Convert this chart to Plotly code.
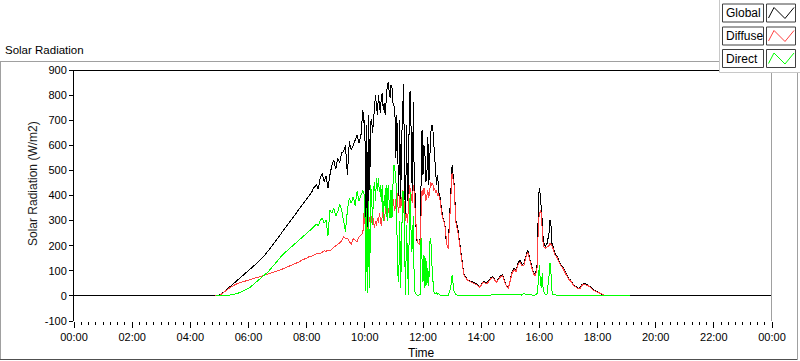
import plotly.graph_objects as go

# ---------------- data ----------------
times = [
    "00:00", "04:48", "04:52", "04:56", "05:00", "05:04", "05:08", "05:12", "05:16", "05:20",
    "05:24", "05:28", "05:32", "05:36", "05:40", "05:44", "05:48", "05:52", "05:56", "06:00",
    "06:05", "06:10", "06:15", "06:20", "06:25", "06:30", "06:35", "06:40", "06:45", "06:50",
    "06:55", "07:00", "07:05", "07:10", "07:15", "07:20", "07:25", "07:30", "07:35", "07:40",
    "07:45", "07:50", "07:55", "08:00", "08:05", "08:10", "08:15", "08:20", "08:24", "08:28",
    "08:32", "08:36", "08:40", "08:44", "08:48", "08:52", "08:56", "09:00", "09:04", "09:08",
    "09:12", "09:16", "09:20", "09:24", "09:28", "09:32", "09:36", "09:40", "09:44", "09:48",
    "09:52", "09:56", "09:58", "10:00", "10:02", "10:04", "10:06", "10:08", "10:10", "10:12",
    "10:14", "10:16", "10:18", "10:20", "10:22", "10:24", "10:26", "10:28", "10:30", "10:32",
    "10:34", "10:36", "10:38", "10:40", "10:42", "10:44", "10:46", "10:48", "10:50", "10:52",
    "10:54", "10:56", "10:58", "11:00", "11:02", "11:04", "11:06", "11:08", "11:10", "11:12",
    "11:14", "11:16", "11:18", "11:20", "11:22", "11:24", "11:26", "11:28", "11:30", "11:32",
    "11:34", "11:36", "11:38", "11:40", "11:42", "11:44", "11:46", "11:48", "11:50", "11:52",
    "11:54", "11:56", "11:58", "12:00", "12:02", "12:04", "12:06", "12:08", "12:10", "12:12",
    "12:14", "12:16", "12:18", "12:20", "12:22", "12:24", "12:26", "12:28", "12:30", "12:32",
    "12:34", "12:36", "12:38", "12:40", "12:42", "12:44", "12:46", "12:48", "12:50", "12:52",
    "12:54", "12:56", "12:58", "13:00", "13:04", "13:08", "13:12", "13:16", "13:20", "13:24",
    "13:28", "13:32", "13:36", "13:40", "13:44", "13:48", "13:52", "13:56", "14:00", "14:04",
    "14:08", "14:12", "14:16", "14:20", "14:24", "14:28", "14:32", "14:36", "14:40", "14:44",
    "14:48", "14:52", "14:56", "15:00", "15:04", "15:08", "15:12", "15:16", "15:20", "15:24",
    "15:28", "15:32", "15:36", "15:40", "15:44", "15:48", "15:52", "15:56", "15:58", "16:00",
    "16:02", "16:04", "16:06", "16:08", "16:12", "16:16", "16:20", "16:22", "16:24", "16:26",
    "16:28", "16:32", "16:36", "16:40", "16:44", "16:48", "16:52", "16:56", "17:00", "17:04",
    "17:08", "17:12", "17:16", "17:20", "17:24", "17:28", "17:32", "17:36", "17:40", "17:44",
    "17:48", "17:52", "17:56", "18:00", "18:04", "18:08", "18:12", "18:16", "18:30", "18:45",
    "19:00", "19:08", "19:12", "24:00",
]

global_wm2 = [
    0, 0, 0, 1, 4, 8, 14, 20, 27, 34,
    41, 48, 55, 61, 68, 75, 82, 88, 95, 103,
    110, 118, 126, 135, 145, 155, 166, 178, 190, 202,
    215, 228, 242, 256, 269, 282, 296, 309, 322, 336,
    349, 362, 375, 388, 401, 412, 432, 442, 425, 470,
    488, 455, 478, 430, 482, 520, 542, 505, 550, 530,
    570, 575, 600, 482, 615, 580, 600, 625, 641, 610,
    640, 741, 690, 700, 250, 680, 240, 720, 420, 690,
    705, 650, 690, 740, 800, 760, 720, 800, 770, 730,
    790, 810, 740, 770, 720, 800, 830, 850, 810, 790,
    840, 830, 770, 760, 740, 550, 720, 500, 400, 700,
    380, 620, 720, 845, 450, 300, 680, 380, 420, 810,
    814, 640, 375, 774, 450, 400, 243, 216, 211, 205,
    230, 550, 661, 482, 600, 565, 455, 480, 635, 443,
    600, 650, 681, 675, 615, 560, 535, 442, 480, 420,
    389, 395, 336, 330, 300, 296, 270, 211, 197, 190,
    280, 375, 460, 520, 450, 300, 265, 200, 150, 90,
    75, 64, 60, 57, 55, 51, 45, 37, 44, 57,
    55, 51, 62, 72, 77, 64, 57, 70, 80, 84,
    60, 40, 32, 70, 97, 110, 100, 130, 143, 125,
    130, 155, 183, 150, 120, 90, 84, 130, 382, 430,
    400, 362, 300, 223, 196, 209, 250, 303, 280, 209,
    200, 170, 160, 143, 125, 117, 100, 84, 70, 64,
    50, 40, 37, 30, 32, 45, 50, 48, 44, 38,
    30, 24, 20, 17, 14, 8, 4, 0, 0, 0,
    0, 0, 0, 0,
]

diffuse_wm2 = [
    None, None, 0, 1, 3, 7, 12, 18, 24, 30,
    36, 41, 45, 48, 51, 54, 57, 59, 61, 63,
    66, 70, 72, 74, 77, 79, 82, 85, 88, 91,
    95, 99, 103, 107, 111, 115, 121, 124, 128, 132,
    136, 143, 146, 150, 157, 158, 163, 166, 170, 168,
    175, 180, 178, 183, 180, 188, 196, 200, 205, 212,
    218, 236, 228, 230, 215, 205, 228, 222, 216, 235,
    243, 250, 330, 300, 230, 290, 220, 320, 300, 280,
    310, 330, 290, 270, 300, 280, 310, 290, 330, 300,
    280, 320, 350, 300, 340, 360, 320, 350, 330, 370,
    340, 375, 389, 360, 340, 380, 420, 360, 330, 400,
    350, 380, 420, 400, 350, 300, 330, 290, 360, 440,
    420, 400, 370, 440, 410, 330, 243, 216, 211, 205,
    225, 380, 420, 400, 430, 410, 380, 400, 420, 390,
    430, 455, 440, 450, 420, 430, 410, 420, 400, 410,
    385, 380, 330, 320, 298, 292, 265, 208, 195, 188,
    270, 360, 440, 490, 440, 290, 255, 195, 145, 86,
    72, 62, 58, 55, 52, 48, 43, 35, 41, 54,
    52, 48, 58, 69, 72, 62, 54, 66, 76, 80,
    57, 38, 30, 66, 92, 104, 96, 124, 136, 120,
    122, 150, 176, 145, 115, 86, 80, 120, 300, 330,
    340, 330, 270, 200, 190, 195, 200, 210, 205, 200,
    190, 165, 155, 138, 120, 112, 96, 80, 67, 61,
    48, 38, 35, 28, 30, 42, 47, 45, 41, 36,
    28, 22, 18, 15, 12, 7, 3, 2, 2, 2,
    2, 2, None, None,
]

direct_wm2 = [
    None, None, 0, 0, 0, 0, 1, 1, 2, 3,
    4, 5, 7, 9, 12, 15, 18, 21, 25, 30,
    37, 45, 53, 62, 71, 79, 86, 95, 106, 118,
    130, 142, 154, 163, 172, 181, 190, 199, 207, 216,
    225, 234, 242, 250, 258, 266, 276, 286, 280, 300,
    310, 290, 302, 240, 340, 330, 350, 318, 335, 365,
    345, 300, 256, 340, 390, 370, 395, 360, 416, 380,
    400, 420, 410, 380, 20, 350, 10, 380, 30, 440,
    400, 283, 420, 455, 380, 470, 420, 470, 415, 440,
    375, 442, 300, 400, 350, 442, 300, 440, 380, 310,
    420, 310, 440, 522, 500, 482, 283, 84, 57, 300,
    32, 250, 415, 415, 84, 4, 283, 57, 4, 350,
    415, 177, 190, 320, 32, 10, 3, 2, 2, 3,
    5, 230, 137, 57, 164, 32, 150, 44, 110, 40,
    216, 230, 137, 84, 17, 10, 8, 12, 6, 10,
    4, 3, 3, 2, 3, 2, 3, 3, 3, 3,
    15, 24, 44, 84, 20, 5, 3, 3, 3, 3,
    3, 3, 3, 3, 3, 2, 3, 3, 3, 3,
    3, 3, 2, 3, 4, 3, 3, 3, 4, 3,
    3, 3, 3, 4, 4, 5, 3, 4, 6, 3,
    11, 5, 6, 4, 3, 3, 4, 10, 60, 124,
    60, 30, 90, 24, 6, 8, 80, 130, 90, 20,
    5, 3, 3, 3, 3, 3, 3, 3, 3, 3,
    2, 2, 2, 2, 2, 2, 2, 2, 2, 2,
    2, 2, 2, 2, 2, 1, 1, 1, 1, 1,
    1, 1, None, None,
]

x_tick_hours = [0, 2, 4, 6, 8, 10, 12, 14, 16, 18, 20, 22, 24]
x_tick_labels = ["00:00", "02:00", "04:00", "06:00", "08:00", "10:00", "12:00",
                 "14:00", "16:00", "18:00", "20:00", "22:00", "00:00"]
y_tick_vals = [-100, 0, 100, 200, 300, 400, 500, 600, 700, 800, 900]
y_tick_labels = ["-100", "0", "100", "200", "300", "400", "500", "600", "700", "800", "900"]

series_names = ["Global", "Diffuse", "Direct"]
series_colors = ["#000000", "#ff4040", "#00ff00"]

assert len(times) == len(global_wm2) == len(diffuse_wm2) == len(direct_wm2)


def to_hours(t):
    h, m = t.split(":")
    return int(h) + int(m) / 60.0


hours = [to_hours(t) for t in times]

# ---------------- layout geometry (pixels) ----------------
FW, FH = 800, 361
L, R, T, B = 74, 28, 70, 40
W = FW - L - R
H = FH - T - B


def px(x):
    return (x - L) / W


def py(y):
    return (T + H - y) / H


FONT = "Tahoma, 'Liberation Sans', Arial, sans-serif"

fig = go.Figure()
for name, vals, col in zip(series_names, [global_wm2, diffuse_wm2, direct_wm2], series_colors):
    fig.add_trace(go.Scatter(x=hours, y=vals, mode="lines", name=name,
                             line=dict(color=col, width=1), connectgaps=False,
                             hoverinfo="skip"))

shapes = []


def line(x0, y0, x1, y1, color, width=1):
    shapes.append(dict(type="line", xref="paper", yref="paper",
                       x0=px(x0), y0=py(y0), x1=px(x1), y1=py(y1),
                       line=dict(color=color, width=width), layer="above"))


def rect(x0, y0, x1, y1, color, fill="rgba(0,0,0,0)", width=1):
    shapes.append(dict(type="rect", xref="paper", yref="paper",
                       x0=px(x0), y0=py(y0), x1=px(x1), y1=py(y1),
                       line=dict(color=color, width=width), fillcolor=fill, layer="above"))


# plot frame: black top, grey right
line(L, T + 0.5, L + W, T + 0.5, "#000000")
line(L + W - 0.5, T, L + W - 0.5, T + H, "#a0a0a0")

# outer chart frame
line(0, 61.5, 719, 61.5, "#a0a0a0")
line(0.5, 61, 0.5, 359.5, "#a0a0a0")
line(0, 359.5, 797.5, 359.5, "#505050")
line(797.5, 72, 797.5, 359.5, "#a0a0a0")

# legend panel
rect(719.5, -1, 801, 72.5, "#c8c8c8", fill="#ffffff")
row_tops = [4, 27, 49.5]
annotations = []
for top, name, col in zip(row_tops, series_names, series_colors):
    rect(722.5, top, 763.5, top + 18, "#404040", fill="#ffffff")
    rect(766.5, top, 795.5, top + 18, "#404040", fill="#ffffff")
    pts = [(768.5, top + 14), (774, top + 3.5), (785, top + 14.5), (794, top + 3.5)]
    path = "M " + " L ".join("%.5f,%.5f" % (px(a), py(b)) for a, b in pts)
    shapes.append(dict(type="path", xref="paper", yref="paper", path=path,
                       line=dict(color=col, width=1), layer="above"))
    annotations.append(dict(xref="paper", yref="paper", x=px(724), y=py(top + 9.5),
                            xanchor="left", yanchor="middle", text=name, showarrow=False,
                            font=dict(family=FONT, size=12, color="#000000")))

annotations += [
    dict(xref="paper", yref="paper", x=px(3), y=py(50), xanchor="left", yanchor="middle",
         text="Solar Radiation", showarrow=False,
         font=dict(family=FONT, size=11.5, color="#000000")),
    dict(xref="paper", yref="paper", x=px(33), y=py(184), xanchor="center",
         yanchor="middle", text="Solar Radiation (W/m2)", textangle=-90, showarrow=False,
         font=dict(family=FONT, size=12, color="#1a1a1a")),
    dict(xref="paper", yref="paper", x=px(421), y=py(353), xanchor="center",
         yanchor="middle", text="Time", showarrow=False,
         font=dict(family=FONT, size=12, color="#000000")),
]

fig.update_layout(
    width=FW, height=FH,
    margin=dict(l=L, r=R, t=T, b=B, pad=0),
    paper_bgcolor="#ffffff", plot_bgcolor="#ffffff",
    showlegend=False,
    shapes=shapes, annotations=annotations,
    font=dict(family=FONT, size=11, color="#000000"),
    xaxis=dict(range=[0, 24], tickmode="array", tickvals=x_tick_hours, ticktext=x_tick_labels,
               ticks="outside", ticklen=6, tickwidth=1, tickcolor="#000000",
               showgrid=False, zeroline=False, showline=False,
               tickfont=dict(family=FONT, size=11, color="#000000"),
               minor=dict(tickmode="linear", tick0=0, dtick=0.25, ticks="outside",
                          ticklen=3, tickwidth=1, tickcolor="#000000", showgrid=False)),
    yaxis=dict(range=[-100, 900], tickmode="array", tickvals=y_tick_vals, ticktext=y_tick_labels,
               ticks="outside", ticklen=4, tickwidth=1, tickcolor="#000000",
               showgrid=False, zeroline=False, showline=True, linecolor="#000000", linewidth=1,
               tickfont=dict(family=FONT, size=11, color="#000000")),
)

post = ("document.body.style.margin='0';document.body.style.overflow='hidden';"
        "document.querySelectorAll('.scatterlayer path.js-line').forEach("
        "function(p){p.style.shapeRendering='crispEdges';});")
fig.write_html("out.html", post_script=post, config={"displayModeBar": False})
